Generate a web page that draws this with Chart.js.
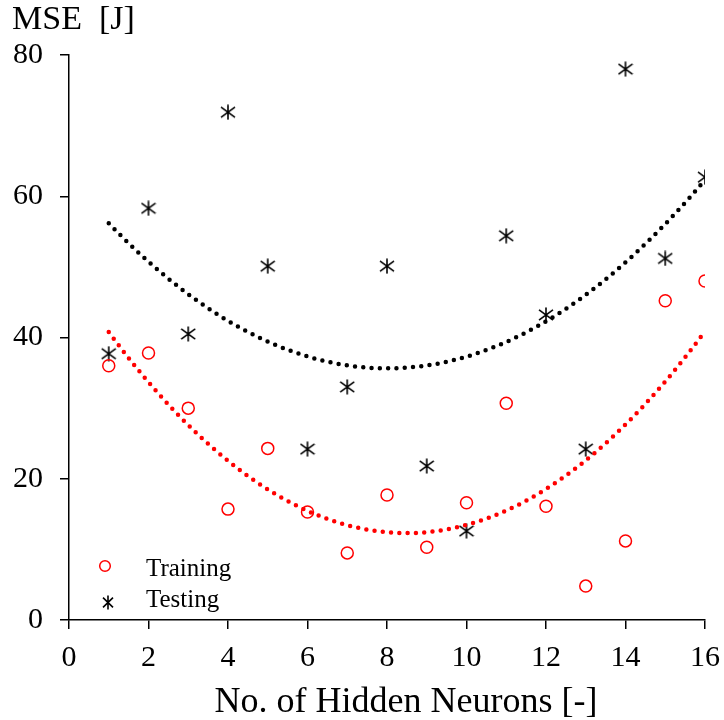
<!DOCTYPE html>
<html>
<head>
<meta charset="utf-8">
<script src="https://cdn.jsdelivr.net/npm/chart.js@4.4.0/dist/chart.umd.min.js"></script>
<style>
  html, body { margin: 0; padding: 0; background: #fff; }
  #wrap { width: 724px; height: 720px; }
</style>
</head>
<body>
<div id="wrap"><canvas id="mseChart" width="724" height="720"></canvas></div>
<script>
const neurons = [1, 2, 3, 4, 5, 6, 7, 8, 9, 10, 11, 12, 13, 14, 15, 16];
const trainingMse = [36.0, 37.8, 30.0, 15.7, 24.3, 15.3, 9.5, 17.7, 10.3, 16.6, 30.7, 16.1, 4.8, 11.2, 45.2, 48.0];
const testingMse = [37.7, 58.3, 40.5, 71.9, 50.1, 24.2, 33.0, 50.1, 21.8, 12.6, 54.4, 43.2, 24.2, 78.0, 51.2, 62.7];
const xTicks = [0, 2, 4, 6, 8, 10, 12, 14, 16];
const yTicks = [0, 20, 40, 60, 80];

const serif = "'Liberation Serif', 'Times New Roman', serif";

// order-2 polynomial trendline, like the spreadsheet one
function quadFit(xs, ys) {
    let s = [0, 0, 0, 0, 0], t = [0, 0, 0];
    xs.forEach((x, i) => {
        for (let k = 0; k < 5; k++) s[k] += Math.pow(x, k);
        for (let k = 0; k < 3; k++) t[k] += Math.pow(x, k) * ys[i];
    });
    const m = [[s[0], s[1], s[2], t[0]], [s[1], s[2], s[3], t[1]], [s[2], s[3], s[4], t[2]]];
    for (let i = 0; i < 3; i++) {
        for (let j = i + 1; j < 3; j++) {
            const f = m[j][i] / m[i][i];
            for (let k = i; k < 4; k++) m[j][k] -= f * m[i][k];
        }
    }
    const c = [0, 0, 0];
    for (let i = 2; i >= 0; i--) {
        let v = m[i][3];
        for (let k = i + 1; k < 3; k++) v -= m[i][k] * c[k];
        c[i] = v / m[i][i];
    }
    return c;
}

function trendPoints(ys) {
    const c = quadFit(neurons, ys);
    const pts = [];
    for (let x = neurons[0]; x <= neurons[neurons.length - 1] + 1e-9; x += 0.1) {
        pts.push({ x: x, y: c[0] + c[1] * x + c[2] * x * x });
    }
    return pts;
}

function makeAsterisk(w, h) {
    const cv = document.createElement("canvas");
    cv.width = w; cv.height = h;
    const g = cv.getContext("2d");
    g.strokeStyle = "#000";
    g.lineWidth = 1.6;
    g.beginPath();
    g.moveTo(w / 2, 0.5); g.lineTo(w / 2, h - 0.5);
    g.moveTo(1, h * 0.18); g.lineTo(w - 1, h * 0.82);
    g.moveTo(w - 1, h * 0.18); g.lineTo(1, h * 0.82);
    g.stroke();
    return cv;
}
const asterisk = makeAsterisk(16, 16);
const legendAsterisk = makeAsterisk(12, 15);

const overlayText = {
    id: "overlayText",
    afterDraw(chart) {
        const ctx = chart.ctx;
        ctx.save();
        ctx.fillStyle = "#000";
        ctx.textBaseline = "alphabetic";
        ctx.font = "34px " + serif;
        ctx.textAlign = "left";
        ctx.fillText("MSE\u2002[J]", 12, 29);
        ctx.font = "36px " + serif;
        ctx.textAlign = "center";
        ctx.fillText("No. of Hidden Neurons [-]", 406, 712);

        // legend inside the plot, bottom left
        ctx.font = "25px " + serif;
        ctx.textAlign = "left";
        ctx.strokeStyle = "#ff0000";
        ctx.lineWidth = 1.5;
        ctx.beginPath();
        ctx.arc(105, 566, 5.3, 0, Math.PI * 2);
        ctx.stroke();
        ctx.fillText("Training", 146, 576);
        ctx.drawImage(legendAsterisk, 102, 595);
        ctx.fillText("Testing", 146, 607);
        ctx.restore();
    }
};

new Chart(document.getElementById("mseChart"), {
    type: "scatter",
    data: {
        datasets: [
            {
                label: "Training trend",
                type: "line",
                data: trendPoints(trainingMse),
                borderColor: "#ff0000",
                borderWidth: 4.5,
                borderDash: [0, 8.3],
                borderCapStyle: "round",
                pointRadius: 0,
                fill: false
            },
            {
                label: "Testing trend",
                type: "line",
                data: trendPoints(testingMse),
                borderColor: "#000",
                borderWidth: 4.5,
                borderDash: [0, 8.3],
                borderCapStyle: "round",
                pointRadius: 0,
                fill: false
            },
            {
                label: "Training",
                data: neurons.map((x, i) => ({ x: x, y: trainingMse[i] })),
                pointStyle: "circle",
                pointRadius: 6,
                borderColor: "#ff0000",
                backgroundColor: "rgba(0,0,0,0)",
                borderWidth: 1.5
            },
            {
                label: "Testing",
                data: neurons.map((x, i) => ({ x: x, y: testingMse[i] })),
                pointStyle: asterisk,
                pointRadius: 8
            }
        ]
    },
    options: {
        responsive: false,
        animation: false,
        layout: { padding: { top: 55, right: 19, left: 0, bottom: 0 } },
        plugins: {
            legend: { display: false },
            tooltip: { enabled: false }
        },
        scales: {
            x: {
                type: "linear",
                min: 0,
                max: 16,
                afterBuildTicks: s => { s.ticks = xTicks.map(v => ({ value: v })); },
                afterFit: s => { s.height = 100; s.paddingLeft = 0; s.paddingRight = 0; },
                grid: { drawOnChartArea: false, drawTicks: true, tickLength: 9, color: "#000", lineWidth: 1.5 },
                border: { color: "#000", width: 1.5 },
                ticks: { color: "#000", font: { family: serif, size: 30 }, padding: 11, maxRotation: 0 }
            },
            y: {
                type: "linear",
                min: 0,
                max: 80,
                afterBuildTicks: s => { s.ticks = yTicks.map(v => ({ value: v })); },
                afterFit: s => { s.width = 69; s.paddingTop = 0; s.paddingBottom = 0; },
                grid: { drawOnChartArea: false, drawTicks: true, tickLength: 9, color: "#000", lineWidth: 1.5 },
                border: { color: "#000", width: 1.5 },
                ticks: { color: "#000", font: { family: serif, size: 30 }, padding: 17 }
            }
        }
    },
    plugins: [overlayText]
});
</script>
</body>
</html>
